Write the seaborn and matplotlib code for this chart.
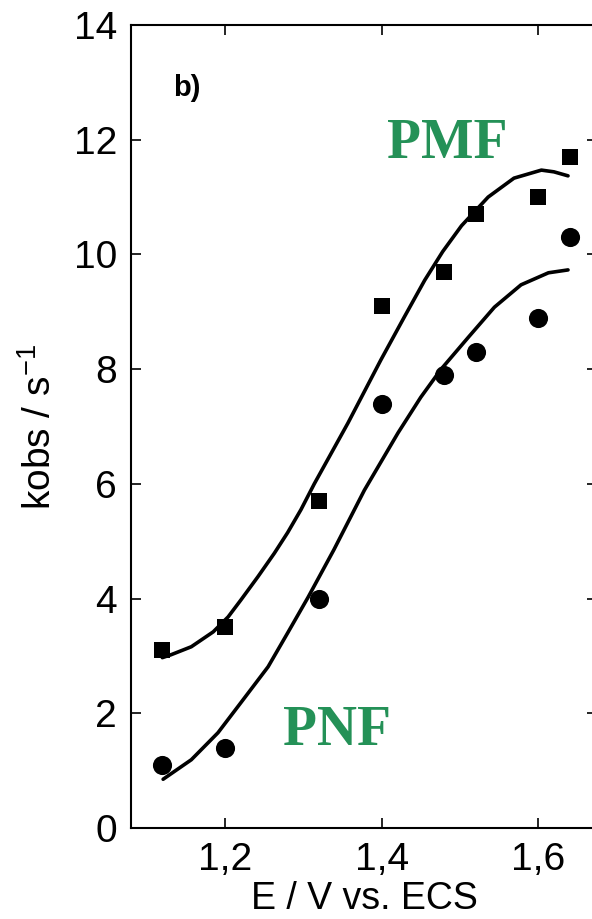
import matplotlib
matplotlib.use("Agg")
import matplotlib.pyplot as plt
import seaborn as sns
import pandas as pd

# Measured data points
potential = [1.12, 1.20, 1.32, 1.40, 1.48, 1.52, 1.60, 1.64]
kobs_pmf = [3.1, 3.5, 5.7, 9.1, 9.7, 10.7, 11.0, 11.7]
kobs_pnf = [1.1, 1.4, 4.0, 7.4, 7.9, 8.3, 8.9, 10.3]

# Fitted curves
fit_pmf_x = [1.120, 1.131, 1.157, 1.185, 1.204, 1.220, 1.242, 1.263, 1.280, 1.297,
             1.314, 1.357, 1.399, 1.429, 1.455, 1.478, 1.502, 1.536, 1.569, 1.604,
             1.620, 1.638]
fit_pmf_y = [2.97, 3.02, 3.16, 3.42, 3.68, 3.97, 4.38, 4.79, 5.15, 5.55,
             6.00, 7.06, 8.16, 8.91, 9.55, 10.05, 10.50, 11.00, 11.33, 11.47,
             11.44, 11.37]
fit_pnf_x = [1.121, 1.157, 1.191, 1.220, 1.255, 1.280, 1.306, 1.339, 1.378,
             1.421, 1.450, 1.476, 1.511, 1.544, 1.578, 1.613, 1.638]
fit_pnf_y = [0.85, 1.19, 1.66, 2.18, 2.81, 3.40, 4.02, 4.85, 5.89,
             6.89, 7.51, 8.00, 8.56, 9.08, 9.47, 9.68, 9.73]

x_ticks = [1.2, 1.4, 1.6]
x_ticklabels = ["1,2", "1,4", "1,6"]
y_ticks = [0, 2, 4, 6, 8, 10, 12, 14]

sns.set_style("ticks")
plt.rcParams["font.family"] = ["Liberation Sans", "DejaVu Sans"]
plt.rcParams["mathtext.fontset"] = "custom"
plt.rcParams["mathtext.rm"] = "Liberation Sans"
plt.rcParams["mathtext.default"] = "regular"
plt.rcParams["text.color"] = "black"
plt.rcParams["axes.labelcolor"] = "black"

fig = plt.figure(figsize=(5.92, 9.19), dpi=100)
ax = fig.add_axes([131 / 592, 91 / 919, 466 / 592, 803 / 919])

df_pts = pd.DataFrame({"E": potential + potential,
                       "k": kobs_pmf + kobs_pnf,
                       "s": ["PMF"] * len(potential) + ["PNF"] * len(potential)})
sns.scatterplot(data=df_pts[df_pts.s == "PMF"], x="E", y="k", marker="s", s=140,
                color="black", edgecolor="black", linewidth=0, ax=ax, zorder=3)
sns.scatterplot(data=df_pts[df_pts.s == "PNF"], x="E", y="k", marker="o", s=190,
                color="black", edgecolor="black", linewidth=0, ax=ax, zorder=3)

df_fit1 = pd.DataFrame({"E": fit_pmf_x, "k": fit_pmf_y})
df_fit2 = pd.DataFrame({"E": fit_pnf_x, "k": fit_pnf_y})
sns.lineplot(data=df_fit1, x="E", y="k", sort=False, estimator=None, color="black",
             linewidth=2.6, ax=ax)
sns.lineplot(data=df_fit2, x="E", y="k", sort=False, estimator=None, color="black",
             linewidth=2.6, ax=ax)

ax.set_xlim(1.08, 1.675)
ax.set_ylim(0, 14)
ax.set_xticks(x_ticks)
ax.set_xticklabels(x_ticklabels)
ax.set_yticks(y_ticks)
ax.tick_params(direction="in", length=7, width=1.2, labelsize=28, top=True, right=True,
               pad=10, colors="black")
for sp in ax.spines.values():
    sp.set_linewidth(1.5)
    sp.set_color("black")

ax.set_xlabel("E / V vs. ECS", fontsize=27)
ax.set_ylabel(r"kobs / s$^{-1}$", fontsize=28)
ax.xaxis.set_label_coords(0.5, -0.066)
ax.yaxis.set_label_coords(-0.155, 0.5)

green = "#249157"
ax.text(1.4837, 11.68, "PMF", color=green, fontsize=40, fontweight="bold",
        family=["Liberation Serif", "DejaVu Serif"], ha="center", va="baseline")
ax.text(1.343, 1.447, "PNF", color=green, fontsize=40, fontweight="bold",
        family=["Liberation Serif", "DejaVu Serif"], ha="center", va="baseline")
ax.text(1.151, 12.76, "b)", color="black", fontsize=21, fontweight="bold",
        ha="center", va="baseline")

fig.savefig("out.png", dpi=100)
